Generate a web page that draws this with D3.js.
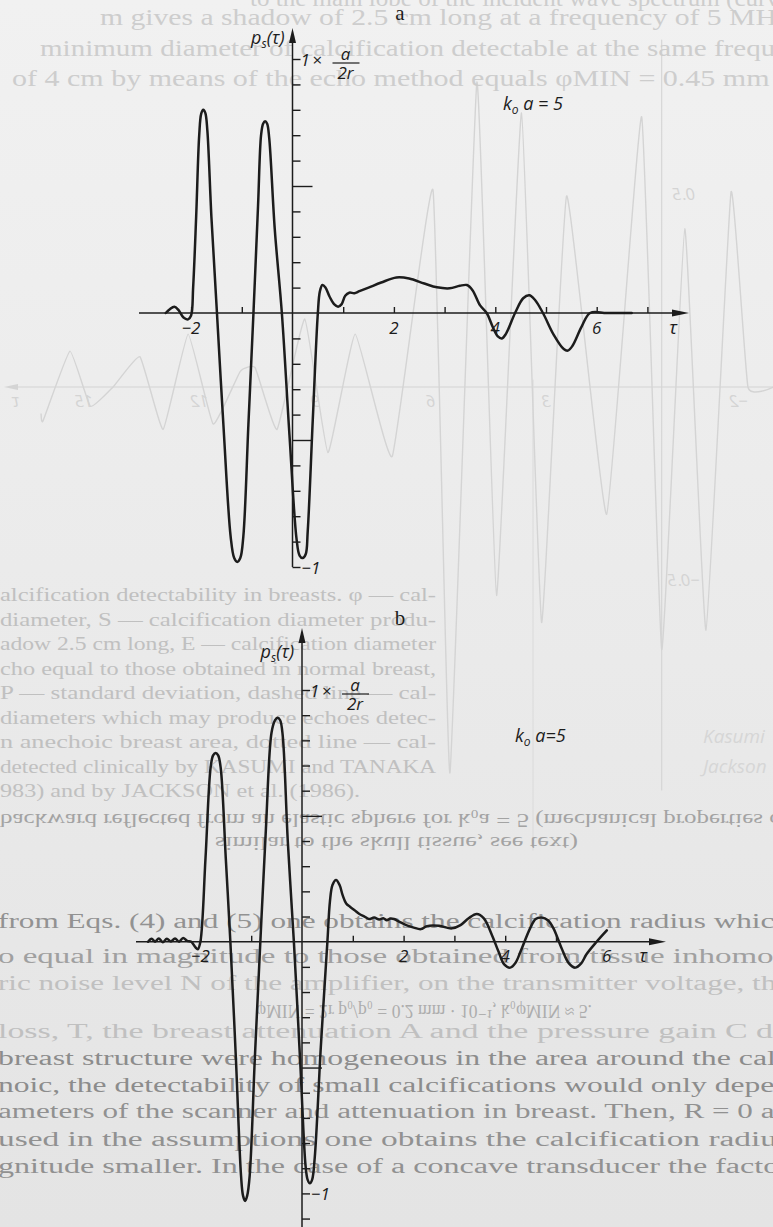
<!DOCTYPE html>
<html>
<head>
<meta charset="utf-8">
<script src="https://cdn.jsdelivr.net/npm/d3@7"></script>
<style>
  html, body { margin: 0; padding: 0; background: #ececec; }
  svg { display: block; }
</style>
</head>
<body>
<div id="page"></div>
<script>
// Echo p_s(tau) backscattered from a sphere, k0a = 5, panels a and b.
// Values.

const tauA = [-2.5, -2.42, -2.33, -2.25, -2.15, -2.06, -2.0, -1.96, -1.9, -1.84, -1.8, -1.76, -1.72, -1.68, -1.6, -1.49,
  -1.36, -1.22, -1.15, -1.09, -1.03, -0.97, -0.87, -0.77, -0.68, -0.62, -0.58, -0.54, -0.5, -0.46, -0.35, -0.21,
  -0.06, 0.08, 0.14, 0.2, 0.26, 0.3, 0.4, 0.5, 0.54, 0.59, 0.65, 0.73, 0.82, 0.9, 0.97, 1.04, 1.12, 1.22, 1.32,
  1.5, 1.75, 2.05, 2.3, 2.6, 2.85, 3.1, 3.3, 3.44, 3.55, 3.7, 3.83, 3.95, 4.05, 4.13, 4.21, 4.39, 4.55, 4.67,
  4.78, 4.94, 5.15, 5.35, 5.43, 5.52, 5.7, 5.87, 6.2, 6.69];
const pA = [0, 0.015, 0.025, 0.012, -0.018, -0.025, -0.01, 0.1, 0.38, 0.7, 0.785, 0.8, 0.788, 0.72, 0.38, 0,
  -0.45, -0.88, -0.965, -0.98, -0.965, -0.88, -0.44, 0, 0.42, 0.7, 0.745, 0.755, 0.745, 0.69, 0.33, 0,
  -0.48, -0.89, -0.955, -0.965, -0.95, -0.86, -0.42, 0, 0.085, 0.11, 0.1, 0.065, 0.035, 0.025, 0.035, 0.068, 0.08, 0.078, 0.086,
  0.1, 0.12, 0.14, 0.136, 0.116, 0.101, 0.097, 0.107, 0.11, 0.09, 0.03, 0, -0.055, -0.092, -0.1, -0.082, 0, 0.058, 0.07,
  0.052, 0, -0.085, -0.142, -0.148, -0.13, -0.055, 0, 0, 0];

const tauB = [-3.03, -2.96, -2.89, -2.82, -2.74, -2.66, -2.58, -2.5, -2.42, -2.34, -2.26, -2.18, -2.1, -2.05, -2.0,
  -1.9, -1.8, -1.75, -1.7, -1.65, -1.6, -1.5, -1.41, -1.3, -1.2, -1.16, -1.12, -1.08, -1.03, -0.93, -0.82,
  -0.71, -0.6, -0.53, -0.48, -0.43, -0.38, -0.28, -0.16, -0.03, 0.07, 0.11, 0.155, 0.2, 0.25, 0.37, 0.5,
  0.55, 0.6, 0.67, 0.74, 0.8, 0.87, 0.95, 1.03, 1.13, 1.23, 1.32, 1.42, 1.52, 1.6, 1.67, 1.74, 1.81, 1.91,
  2.05, 2.2, 2.34, 2.46, 2.7, 2.95, 3.12, 3.28, 3.44, 3.58, 3.74, 3.87, 3.98, 4.1, 4.2, 4.3, 4.49, 4.6, 4.72,
  4.84, 4.95, 5.11, 5.25, 5.38, 5.5, 5.6, 5.8, 6.0];
const pB = [0, 0.012, 0, 0.013, -0.002, 0.012, 0.001, 0.013, 0, 0.015, 0.003, 0, -0.022, -0.03, 0,
  0.33, 0.69, 0.74, 0.75, 0.74, 0.69, 0.33, 0, -0.47, -0.93, -1.01, -1.03, -1.01, -0.93, -0.47, 0,
  0.45, 0.83, 0.88, 0.89, 0.88, 0.82, 0.4, 0, -0.5, -0.89, -0.945, -0.96, -0.945, -0.86, -0.42, 0,
  0.16, 0.225, 0.245, 0.225, 0.185, 0.152, 0.138, 0.126, 0.11, 0.1, 0.09, 0.096, 0.088, 0.093, 0.085, 0.092, 0.09, 0.08,
  0.066, 0.056, 0.05, 0.062, 0.063, 0.053, 0.066, 0.093, 0.11, 0.093, 0.026, -0.04, -0.09, -0.103, -0.085, -0.04, 0.053, 0.09, 0.096,
  0.085, 0.053, -0.026, -0.085, -0.103, -0.085, -0.05, 0, 0.045];

const yTicksA = [-1, -0.9, -0.8, -0.7, -0.6, -0.5, -0.4, -0.3, -0.2, -0.1, 0.1, 0.2, 0.3, 0.4, 0.5, 0.6, 0.7, 0.8, 0.9, 1];
const yTicksB = [-1.1, -1, -0.9, -0.8, -0.7, -0.6, -0.5, -0.4, -0.3, -0.2, -0.1, 0.1, 0.2, 0.3, 0.4, 0.5, 0.6, 0.7, 0.8, 0.9, 1];
const xTicksA = [-2, -1, 1, 2, 3, 4, 5, 6, 7];
const xTicksB = [-2, -1, 1, 2, 3, 4, 5];
const xTickLabels = [-2, 2, 4, 6];

// mirrored figure showing through from the back of the page
const ghostTau = [-2.9, -2.24, -1.8, -1.15, -0.6, 0, 0.52, 1.43, 2.47, 3.12, 3.64, 4.29, 4.8, 5.5, 5.94, 7.0,
  7.96, 8.67, 9.27, 9.99, 10.56, 10.95, 11.65, 12.3, 12.95, 13.55, 14.25, 14.84, 15.37, 16.07, 16.12];
const ghostVal = [0, 0, 0.505, -0.63, 0.41, -0.68, 0.7, -0.33, 0.495, -0.61, 0.71, -0.54, 0.79, -1.0, 0.51, -0.18,
  0.137, -0.17, 0.176, -0.11, 0.05, 0.04, -0.096, 0.137, -0.11, 0.078, 0, -0.05, 0.093, -0.088, -0.07];
const ghostTauLabels = [-2, 3, 6, 9, 12, 15];

const topLines = [
  "to the main lobe of the incident wave spectrum (curve",
  "m gives a shadow of 2.5 cm long at a frequency of 5 MHz",
  "minimum diameter of calcification detectable at the same frequency",
  "of 4 cm by means of the echo method equals \u03c6MIN = 0.45 mm (5"
];
const captionLines = [
  "alcification detectability in breasts. \u03c6 \u2014 cal-",
  "diameter, S \u2014 calcification diameter produ-",
  "adow 2.5 cm long, E \u2014 calcification diameter",
  "cho equal to those obtained in normal breast,",
  "P \u2014 standard deviation, dashed line \u2014 cal-",
  "diameters which may produce echoes detec-",
  "n anechoic breast area, dotted line \u2014 cal-",
  "detected clinically by KASUMI and TANAKA",
  "983) and by JACKSON et al. (1986)."
];
const flippedCaption = [
  "backward reflected from an elastic sphere for k\u2080a = 5 (mechanical properties of",
  "similar to the skull tissue, see text)"
];
const bodyLines = [
  "from Eqs. (4) and (5) one obtains the calcification radius which",
  "o equal in magnitude to those obtained from tissue inhomog",
  "ric noise level N of the amplifier, on the transmitter voltage, the",
  "loss, T, the breast attenuation A and the pressure gain C du",
  "breast structure were homogeneous in the area around the calc",
  "noic, the detectability of small calcifications would only depen",
  "ameters of the scanner and attenuation in breast. Then, R = 0 an",
  "used in the assumptions one obtains the calcification radius",
  "gnitude smaller. In the case of a concave transducer the factor"
];
const flippedFormula = "\u03c6MIN = 2r p\u2080/p\u2080 = 0.2 mm \u00b7 10\u207b\u00b9,   k\u2080\u03c6MIN \u2248 5.";

const W = 773, H = 1227;
const INK = "#1c1c1c";
const SANS = "'Open Sans', 'DejaVu Sans', sans-serif";
const SERIF = "'Liberation Serif', 'DejaVu Serif', serif";

const svg = d3.select("#page").append("svg")
  .attr("width", W).attr("height", H)
  .attr("viewBox", `0 0 ${W} ${H}`);

const grad = svg.append("defs").append("linearGradient")
  .attr("id", "paper").attr("x1", 0).attr("y1", 0).attr("x2", 0).attr("y2", 1);
grad.append("stop").attr("offset", "0%").attr("stop-color", "#f1f1f1");
grad.append("stop").attr("offset", "100%").attr("stop-color", "#e4e4e4");
svg.append("rect").attr("width", W).attr("height", H).attr("fill", "url(#paper)");

// ---- show-through from the reverse side ----
const ghost = svg.append("g").attr("stroke-linecap", "round");
const gx = d3.scaleLinear().domain([0, 1]).range([661.7, 623.2]);
const gy = d3.scaleLinear().domain([0, 1]).range([387, 1]);
const GHOST = "#d4d4d4";

ghost.append("line")
  .attr("x1", 10).attr("x2", W).attr("y1", gy(0)).attr("y2", gy(0))
  .attr("stroke", GHOST).attr("stroke-width", 1.1);
ghost.append("path")
  .attr("d", `M4,${gy(0)} L18,${gy(0) - 3} L18,${gy(0) + 3} Z`)
  .attr("fill", GHOST);
ghost.append("line")
  .attr("x1", gx(0)).attr("x2", gx(0)).attr("y1", 40).attr("y2", 790)
  .attr("stroke", GHOST).attr("stroke-width", 1.1);
ghost.append("line")
  .attr("x1", 533).attr("x2", 533).attr("y1", 380).attr("y2", 850)
  .attr("stroke", "#dadada").attr("stroke-width", 1);
ghost.append("path")
  .datum(ghostTau.map((t, i) => [t, ghostVal[i]]))
  .attr("d", d3.line().x(d => gx(d[0])).y(d => gy(d[1])).curve(d3.curveCardinal.tension(0.65)))
  .attr("fill", "none").attr("stroke", GHOST).attr("stroke-width", 1.4);

ghost.selectAll("text.gtick").data(ghostTauLabels).join("text")
  .attr("transform", d => `translate(${gx(d)},${gy(0) + 20}) scale(-1,1)`)
  .attr("text-anchor", "middle")
  .attr("font-family", SANS).attr("font-style", "italic").attr("font-size", 17)
  .attr("fill", GHOST)
  .text(d => d < 0 ? "\u2212" + Math.abs(d) : d);
ghost.append("text")
  .attr("transform", `translate(16,${gy(0) + 20}) scale(-1,1)`)
  .attr("text-anchor", "middle")
  .attr("font-family", SANS).attr("font-style", "italic").attr("font-size", 18)
  .attr("fill", GHOST).text("\u03c4");
[0.5, -0.5].forEach(v => {
  ghost.append("text")
    .attr("transform", `translate(${gx(0) + 22},${gy(v) + 6}) scale(-1,1)`)
    .attr("text-anchor", "middle")
    .attr("font-family", SANS).attr("font-style", "italic").attr("font-size", 17)
    .attr("fill", GHOST).text(v > 0 ? "0.5" : "\u22120.5");
});
["Kasumi", "Jackson"].forEach((s, i) => {
  ghost.append("text")
    .attr("x", 703).attr("y", 743 + i * 30)
    .attr("font-family", SANS).attr("font-style", "italic").attr("font-size", 19)
    .attr("fill", "#d6d6d6").text(s);
});

// ---- text showing through ----
const bleed = svg.append("g").attr("font-family", SERIF);

const topRows = [
  { x: 250, y: 6, w: 540 },
  { x: 100, y: 25, w: 690 },
  { x: 40, y: 56, w: 790 },
  { x: 12, y: 86, w: 790 }
];
topLines.forEach((t, i) => {
  const r = topRows[i];
  bleed.append("text")
    .attr("x", r.x).attr("y", r.y).attr("font-size", 23)
    .attr("textLength", r.w).attr("lengthAdjust", "spacingAndGlyphs")
    .attr("fill", "#cdcdcd").text(t);
});

captionLines.forEach((t, i) => {
  const last = i === captionLines.length - 1;
  bleed.append("text")
    .attr("x", 0).attr("y", 601 + i * 24.5).attr("font-size", 19)
    .attr("textLength", last ? 360 : 436).attr("lengthAdjust", "spacingAndGlyphs")
    .attr("fill", "#c0c0c0").text(t);
});

[{ x: 0, yc: 820, w: 790 }, { x: 215, yc: 843, w: 363 }].forEach((r, i) => {
  bleed.append("text")
    .attr("transform", `translate(${r.x},${r.yc}) scale(1,-1)`)
    .attr("y", 6.5).attr("font-size", 19)
    .attr("textLength", r.w).attr("lengthAdjust", "spacingAndGlyphs")
    .attr("fill", "#a3a3a3").text(flippedCaption[i]);
});

const bodyBase = [928, 963, 990, 1038, 1065, 1092, 1118, 1146, 1173];
const bodyFill = ["#929292", "#a0a0a0", "#c0c0c0", "#c0c0c0", "#8c8c8c", "#8c8c8c", "#919191", "#919191", "#919191"];
bodyLines.forEach((t, i) => {
  bleed.append("text")
    .attr("x", -2).attr("y", bodyBase[i]).attr("font-size", 20)
    .attr("textLength", 792).attr("lengthAdjust", "spacingAndGlyphs")
    .attr("fill", bodyFill[i]).text(t);
});
bleed.append("text")
  .attr("transform", `translate(256,1011) scale(1,-1)`)
  .attr("y", 6.5).attr("font-size", 19)
  .attr("textLength", 336).attr("lengthAdjust", "spacingAndGlyphs")
  .attr("fill", "#adadad").text(flippedFormula);

// ---- the two panels ----
const panels = [
  { tau: tauA, p: pA, x0: 292.5, xUnit: 50.7, y0: 313, yUnit: 254,
    xStart: 139, xEnd: 689, yTop: 28, yBottom: 567,
    yTicks: yTicksA, xTicks: xTicksA, tauLabelX: 673,
    title: "a", titleY: 20, pLabelY: 44, koX: 503, koY: 110, koText: " = 5" },
  { tau: tauB, p: pB, x0: 302, xUnit: 50.8, y0: 941.7, yUnit: 251.7,
    xStart: 136, xEnd: 666, yTop: 628, yBottom: 1227,
    yTicks: yTicksB, xTicks: xTicksB, tauLabelX: 643,
    title: "b", titleY: 625, pLabelY: 658, koX: 515, koY: 742, koText: "=5" }
];

panels.forEach(p => {
  const x = d3.scaleLinear().domain([0, 1]).range([p.x0, p.x0 + p.xUnit]);
  const y = d3.scaleLinear().domain([0, 1]).range([p.y0, p.y0 - p.yUnit]);
  const g = svg.append("g");

  // y axis ticks, long ones at +-0.5
  g.append("g")
    .attr("transform", `translate(${p.x0},0)`)
    .call(d3.axisRight(y).tickValues(p.yTicks).tickSize(8).tickFormat(""))
    .call(a => a.select(".domain").remove())
    .call(a => a.selectAll(".tick line")
      .attr("stroke", INK).attr("stroke-width", 1.4)
      .filter(d => Math.abs(Math.abs(d) - 0.5) < 1e-6).attr("x2", 20));

  // x axis ticks pointing up
  g.append("g")
    .attr("transform", `translate(0,${p.y0})`)
    .call(d3.axisTop(x).tickValues(p.xTicks).tickSize(6).tickFormat(""))
    .call(a => a.select(".domain").remove())
    .call(a => a.selectAll(".tick line").attr("stroke", INK).attr("stroke-width", 1.4));

  g.append("line")
    .attr("x1", p.x0).attr("x2", p.x0).attr("y1", p.yTop + 8).attr("y2", p.yBottom)
    .attr("stroke", INK).attr("stroke-width", 1.5);
  g.append("line")
    .attr("x1", p.xStart).attr("x2", p.xEnd - 8).attr("y1", p.y0).attr("y2", p.y0)
    .attr("stroke", INK).attr("stroke-width", 1.5);
  g.append("path")
    .attr("d", `M${p.x0},${p.yTop} L${p.x0 - 3.5},${p.yTop + 15} L${p.x0 + 3.5},${p.yTop + 15} Z`)
    .attr("fill", INK);
  g.append("path")
    .attr("d", `M${p.xEnd},${p.y0} L${p.xEnd - 17},${p.y0 - 3.5} L${p.xEnd - 17},${p.y0 + 3.5} Z`)
    .attr("fill", INK);

  // waveform
  g.append("path")
    .datum(p.tau.map((t, i) => [t, p.p[i]]))
    .attr("d", d3.line().x(d => x(d[0])).y(d => y(d[1])).curve(d3.curveCatmullRom.alpha(0.5)))
    .attr("fill", "none").attr("stroke", INK).attr("stroke-width", 2.5)
    .attr("stroke-linejoin", "round").attr("stroke-linecap", "round");

  const lab = g.append("g")
    .attr("font-family", SANS).attr("font-style", "italic").attr("fill", INK);

  lab.selectAll("text.xt").data(xTickLabels).join("text")
    .attr("x", d => x(d)).attr("y", p.y0 + 20.5)
    .attr("text-anchor", "middle").attr("font-size", 17)
    .text(d => d < 0 ? "\u2212" + Math.abs(d) : d);
  lab.append("text")
    .attr("x", p.tauLabelX).attr("y", p.y0 + 20.5)
    .attr("text-anchor", "middle").attr("font-size", 19).text("\u03c4");
  lab.append("text")
    .attr("x", p.x0 + 9).attr("y", y(-1) + 7)
    .attr("font-size", 17).text("\u22121");

  // 1 x a/2r
  const y1 = y(1);
  lab.append("text").attr("x", p.x0 + 8).attr("y", y1 + 7).attr("font-size", 17).text("1");
  lab.append("text").attr("x", p.x0 + 20).attr("y", y1 + 7).attr("font-size", 17)
    .attr("font-style", "normal").text("\u00d7");
  lab.append("text").attr("x", p.x0 + 53).attr("y", y1 + 0.5)
    .attr("text-anchor", "middle").attr("font-size", 17).text("a");
  lab.append("line")
    .attr("x1", p.x0 + 40).attr("x2", p.x0 + 67).attr("y1", y1 + 4).attr("y2", y1 + 4)
    .attr("stroke", INK).attr("stroke-width", 1.2);
  lab.append("text").attr("x", p.x0 + 53).attr("y", y1 + 20)
    .attr("text-anchor", "middle").attr("font-size", 17).text("2r");

  // p_s(tau)
  const pl = lab.append("text")
    .attr("x", p.x0 - 8).attr("y", p.pLabelY)
    .attr("text-anchor", "end").attr("font-size", 18);
  pl.append("tspan").text("p");
  pl.append("tspan").attr("dy", 4).attr("font-size", 12).text("s");
  pl.append("tspan").attr("dy", -4).text("(\u03c4)");

  // k0 a = 5
  const ko = lab.append("text")
    .attr("x", p.koX).attr("y", p.koY).attr("font-size", 18);
  ko.append("tspan").text("k");
  ko.append("tspan").attr("dy", 4).attr("font-size", 12).text("o");
  ko.append("tspan").attr("dy", -4).text(" a" + p.koText);

  svg.append("text")
    .attr("x", 400).attr("y", p.titleY)
    .attr("text-anchor", "middle")
    .attr("font-family", SERIF).attr("font-size", 21).attr("fill", INK)
    .text(p.title);
});
</script>
</body>
</html>
